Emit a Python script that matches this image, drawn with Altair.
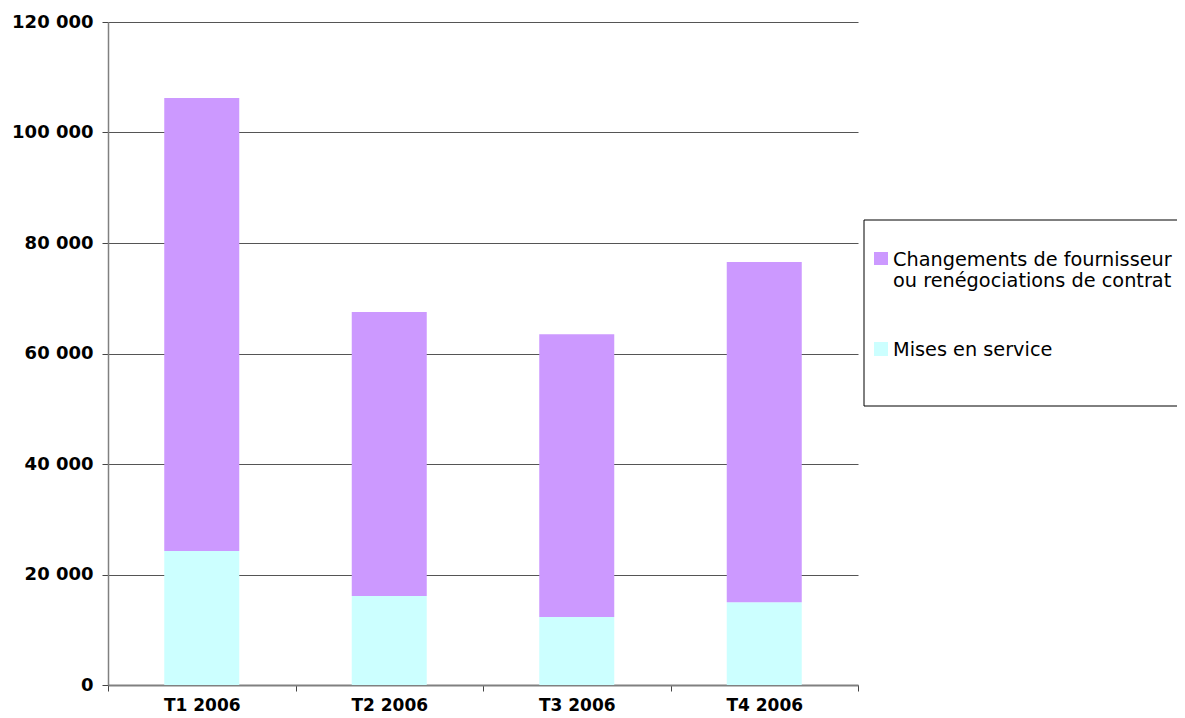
import altair as alt
import pandas as pd

quarters = ["T1 2006", "T2 2006", "T3 2006", "T4 2006"]
series = ["Changements de fournisseur ou renégociations de contrat", "Mises en service"]
legend_lines = [["Changements de fournisseur", "ou renégociations de contrat"], ["Mises en service"]]
changements = [82000, 51400, 51200, 61550]
mises = [24250, 16100, 12300, 15000]
colors = ["#CC99FF", "#CCFFFF"]
y_ticks = [0, 20000, 40000, 60000, 80000, 100000, 120000]

rows = []
for q, c, m in zip(quarters, changements, mises):
    rows.append({"trimestre": q, "serie": series[1], "valeur": m, "ordre": 0})
    rows.append({"trimestre": q, "serie": series[0], "valeur": c, "ordre": 1})
df = pd.DataFrame(rows)

leg_df = pd.DataFrame({"serie": series, "texte": ["\n".join(l) for l in legend_lines]})

color_scale = alt.Scale(domain=series, range=colors)
FONT = "DejaVu Sans"

bars = alt.Chart(df).mark_bar(width=alt.RelativeBandSize(0.4)).encode(
    x=alt.X(
        "trimestre:N", sort=quarters,
        scale=alt.Scale(paddingInner=0, paddingOuter=0),
        axis=alt.Axis(title=None, labelAngle=0, tickBand="extent",
                      domainColor="#808080", domainWidth=2,
                      tickColor="#444444", tickSize=6, tickWidth=1,
                      labelFont=FONT, labelFontWeight="bold", labelFontSize=17,
                      labelColor="black", labelPadding=6, grid=False),
    ),
    y=alt.Y(
        "valeur:Q", stack="zero",
        scale=alt.Scale(domain=[0, 120000], nice=False),
        axis=alt.Axis(title=None, values=y_ticks,
                      labelExpr="replace(format(datum.value, ','), ',', ' ')",
                      grid=True, gridColor="#555555", gridWidth=1,
                      domainColor="#808080", domainWidth=1.5,
                      tickColor="#444444", tickSize=6, tickWidth=1,
                      labelFont=FONT, labelFontWeight="bold", labelFontSize=18,
                      labelColor="black", labelPadding=9),
    ),
    color=alt.Color("serie:N", scale=color_scale, legend=None),
    order=alt.Order("ordre:Q", sort="ascending"),
)

base_leg = alt.Chart(leg_df)

box = base_leg.transform_filter(alt.datum.serie == series[0]).mark_rect(
    fill="white", stroke="black", strokeWidth=1
).encode(x=alt.value(756), x2=alt.value(1100), y=alt.value(198), y2=alt.value(384))

sq1 = base_leg.transform_filter(alt.datum.serie == series[0]).mark_rect().encode(
    x=alt.value(766), x2=alt.value(780), y=alt.value(230), y2=alt.value(243),
    color=alt.Color("serie:N", scale=color_scale, legend=None))
sq2 = base_leg.transform_filter(alt.datum.serie == series[1]).mark_rect().encode(
    x=alt.value(766), x2=alt.value(780), y=alt.value(320), y2=alt.value(334),
    color=alt.Color("serie:N", scale=color_scale, legend=None))

txt_style = dict(align="left", baseline="alphabetic", font=FONT, fontSize=19.3,
                 lineBreak="\n", lineHeight=21, color="black")
t1 = base_leg.transform_filter(alt.datum.serie == series[0]).mark_text(**txt_style).encode(
    x=alt.value(785), y=alt.value(244), text="texte:N")
t2 = base_leg.transform_filter(alt.datum.serie == series[1]).mark_text(**txt_style).encode(
    x=alt.value(785), y=alt.value(333.7), text="texte:N")

chart = alt.layer(bars, box, sq1, sq2, t1, t2).properties(
    width=750, height=663,
    autosize=alt.AutoSizeParams(type="none"),
    padding={"left": 100, "top": 14, "right": 319, "bottom": 31},
).configure_view(stroke=None)

chart.save("out.html", embed_options={"renderer": "svg", "actions": False})
